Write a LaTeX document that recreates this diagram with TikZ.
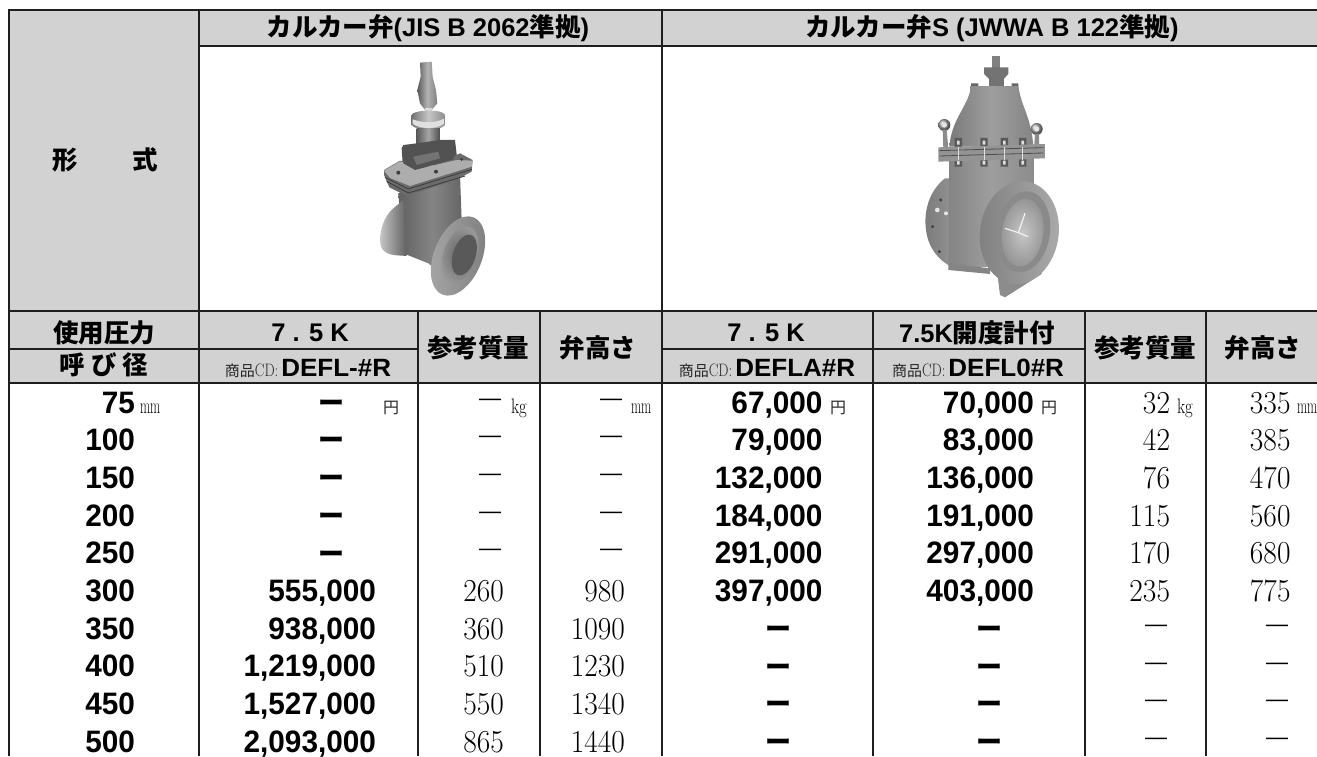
\documentclass[tikz,border=0pt]{standalone}
\usepackage{fontspec}
\newfontfamily\jp{Noto Sans CJK JP}
\newfontfamily\la{Liberation Sans}
\newfontfamily\lanum[FakeStretch=.96]{Liberation Sans}
\newfontfamily\lah[FakeStretch=1.04]{Liberation Sans}
\newfontfamily\fmm[FakeStretch=.6]{Latin Modern Roman}
\newfontfamily\fkg[FakeStretch=.8]{Latin Modern Roman}
\newfontfamily\fser[FakeStretch=.92]{Latin Modern Roman}
\definecolor{hdr}{HTML}{D2D2D2}
\definecolor{ln}{HTML}{1E1E1E}
\newcommand{\fs}[1]{\fontsize{#1}{#1}\selectfont}
\newcommand{\J}[1]{{\jp\bfseries\fs{25.5}#1}}
\newcommand{\Lh}[1]{{\la\bfseries\fs{25.5}#1}}
\newcommand{\CD}[1]{{\jp\fs{15}\color{black!85}商品}{\fkg\fs{18}\color{black!85}CD:}\hspace{3pt}{\lah\bfseries\fs{25}#1}}
\tikzset{
  x=1pt,y=-1pt,
  rule/.style={draw=ln,line width=1.8pt},
  txt/.style={inner sep=0pt,outer sep=0pt},
  bnum/.style={txt,anchor=base east,font=\lanum\bfseries\fs{31}},
  snum/.style={txt,anchor=base east,font=\fser\fs{32}},
  bdash/.style={txt,anchor=center,font=\jp\bfseries\fs{26}},
  sdash/.style={txt,anchor=center,font=\la\fs{22}},
  yen/.style={txt,anchor=base west,font=\jp\fs{16},text=black!85},
  kg/.style={txt,anchor=base west,font=\fkg\fs{21}},
  mm/.style={txt,anchor=base west,font=\fmm\fs{22}},
}
\begin{document}
\begin{tikzpicture}
\useasboundingbox (0,0) rectangle (1317,756);
\clip (0,0) rectangle (1317,756);
% grey fields
\fill[hdr] (9,10) rectangle (199,383);
\fill[hdr] (199,10) rectangle (1317,46);
\fill[hdr] (199,311) rectangle (1317,383);
% valve 1
\begin{scope}[shift={(360,60)},x=.3333pt,y=-.3333pt,line width=.5pt]
  \shade[left color=black!65,right color=black!50,middle color=black!30] (180,8) -- (215,5) -- (218,50) -- (228,90) -- (232,130) -- (215,150) -- (195,150) -- (180,130) -- (172,90) -- (182,50) -- cycle;
  \fill[black!15] (195,145) rectangle (215,170);
  \shade[left color=black!55,right color=black!45,middle color=black!22] (155,165) .. controls (155,150) and (250,145) .. (255,165) -- (255,195) .. controls (240,215) and (170,215) .. (155,195) -- cycle;
  \fill[black!12] (158,178) .. controls (190,190) and (225,190) .. (252,176) -- (252,192) .. controls (225,208) and (185,208) .. (158,192) -- cycle;
  \shade[left color=black!65,right color=black!70,middle color=black!35] (170,205) rectangle (240,270);
  \fill[black!68] (125,265) -- (130,255) -- (170,250) -- (240,240) -- (285,240) -- (292,300) -- (150,330) -- (128,310) -- cycle;
  % body
  \shade[left color=black!62,right color=black!62,middle color=black!48] (115,400) -- (300,345) -- (305,480) -- (320,475) -- (240,640) -- (205,610) -- (130,580) -- cycle;
  \shade[left color=black!20,right color=black!62] (100,445) .. controls (70,470) and (55,520) .. (62,558) .. controls (75,590) and (110,585) .. (140,588) -- (130,420) -- cycle;
  % bonnet flange
  \fill[black!58] (72,345) -- (72,330) -- (120,302) -- (210,320) -- (300,280) -- (338,300) -- (335,335) -- (290,358) -- (140,408) -- (88,382) -- cycle;
  \fill[black!32] (72,332) -- (120,304) -- (150,312) -- (170,328) -- (290,300) -- (338,302) -- (335,320) -- (150,378) -- (90,354) -- cycle;
  \draw[black!75,line width=.9pt] (75,352) -- (145,387) -- (335,328);
  \draw[black!75,line width=.9pt] (80,364) -- (145,399) -- (315,348);
  \fill[black!68] (135,270) -- (240,248) -- (285,268) -- (280,298) -- (165,330) -- (130,310) -- cycle;
  \fill[black!55] (160,290) -- (235,275) -- (240,295) -- (170,315) -- cycle;
  \fill[black!75] (115,338) circle (6) (228,335) circle (6) (305,298) circle (5);
  % flange
  \shade[left color=black!35,right color=black!50,rotate around={-22:(294,588)}] (294,588) circle [x radius=72,y radius=125];
  \shade[inner color=black!62,outer color=black!40,rotate around={-20:(300,585)}] (300,585) circle [x radius=50,y radius=88];
  \fill[black!65,rotate around={-18:(313,585)}] (313,585) circle [x radius=34,y radius=63];
\end{scope}
% valve 2
\begin{scope}[shift={(910,50)},x=.3333pt,y=-.3333pt,line width=.5pt]
  \fill[black!50] (245,18) rectangle (270,55);
  \fill[black!55] (222,52) -- (295,52) -- (295,72) -- (278,90) -- (240,90) -- (222,72) -- cycle;
  \fill[black!55] (238,88) rectangle (282,110);
  \fill[black!60] (183,100) rectangle (205,112) (305,100) rectangle (325,112);
  \shade[left color=black!52,right color=black!48,middle color=black!38] (180,108) -- (325,108) -- (328,125) .. controls (340,180) and (365,210) .. (370,290) -- (118,290) .. controls (125,210) and (165,180) .. (180,125) -- cycle;
  % left flange
  \shade[left color=black!52,right color=black!42] (105,385) .. controls (60,420) and (40,480) .. (48,540) .. controls (55,600) and (95,640) .. (135,655) -- (135,385) -- cycle;
  \fill[black!75] (92,450) circle (5) (68,530) circle (5) (88,605) circle (5);
  \fill[black!10] (82,480) circle (7) (108,490) circle (6);
  % body
  \shade[left color=black!48,right color=black!45,middle color=black!38] (118,320) rectangle (370,650);
  \fill[black!48] (115,640) -- (240,655) -- (240,672) -- (115,660) -- cycle;
  % eye bolts
  \shade[ball color=black!35] (103,225) circle (18);
  \fill[black!10] (103,225) circle (8);
  \shade[ball color=black!35] (380,237) circle (18);
  \fill[black!10] (380,237) circle (8);
  \fill[black!45] (98,240) -- (110,240) -- (115,295) -- (100,295) -- cycle (375,252) -- (387,252) -- (388,295) -- (372,295) -- cycle;
  % flange bands
  \foreach \b in {145,222,283,338}{\fill[black!65] (\b-11,264) rectangle (\b+11,292) (\b-11,328) rectangle (\b+11,350);\fill[black!12] (\b-4,272) rectangle (\b+4,284) (\b-4,332) rectangle (\b+4,344);}
  \fill[black!42] (85,292) -- (405,282) -- (405,325) -- (85,335) -- cycle;
  \draw[black!70,line width=.8pt] (88,302) -- (400,293) (88,318) -- (400,309);
  \foreach \b in {145,222,283,338}{\draw[black!12,line width=1pt] (\b,290) -- (\b,330);}
  % front flange
  \fill[black!45] (262,670) -- (395,640) -- (395,672) -- (285,742) -- (270,735) -- cycle;
  \shade[left color=black!50,right color=black!33,rotate around={-8:(328,548)}] (328,548) circle [x radius=118,y radius=155];
  \fill[black!46,rotate around={-8:(340,545)}] (340,545) circle [x radius=80,y radius=122];
  \shade[inner color=black!22,outer color=black!42,rotate around={-8:(338,548)}] (338,548) circle [x radius=62,y radius=102];
  \draw[black!5,line width=1.2pt] (285,535) -- (325,548) -- (355,560) (325,548) -- (345,490);
\end{scope}
% headers
\node[txt] (hform) at (105.5,160) {\J{形}\hspace{55pt}\J{式}};
\node[txt] (hA) at (428,28) {\J{カルカー弁}\Lh{(JIS B 2062}\J{準拠}\Lh{)}};
\node[txt] (hB) at (992,28) {\J{カルカー弁}\Lh{S (JWWA B 122}\J{準拠}\Lh{)}};
\node[txt] (hpress) at (104,333) {\J{使用圧力}};
\node[txt] (hdia) at (104,365) {\J{呼\hspace{6pt}び\hspace{6pt}径}};
\node[txt] (k1) at (310,333) {\Lh{7 . 5 K}};
\node[txt] (k2) at (766,333) {\Lh{7 . 5 K}};
\node[txt] (k3) at (977,333) {\Lh{7.5K}\J{開度計付}};
\node[txt] (cd1) at (308,368) {\CD{DEFL-\#R}};
\node[txt] (cd2) at (767,368) {\CD{DEFLA\#R}};
\node[txt] (cd3) at (978,368) {\CD{DEFL0\#R}};
\node[txt] (m1) at (478,348) {\J{参考質量}};
\node[txt] (h1) at (598,348) {\J{弁高さ}};
\node[txt] (m2) at (1145,348) {\J{参考質量}};
\node[txt] (h2) at (1263,348) {\J{弁高さ}};
% sizes
\foreach \s [count=\i from 0] in {75,100,150,200,250,300,350,400,450,500}
  \node[bnum] (size\s) at (135,{413+37.7*\i}) {\s};
% bold dashes
\foreach \i in {0,...,4} \node[bdash] (bA\i) at (331,{406+37.7*\i}) {ー};
\foreach \i in {6,...,9} {\node[bdash] (bF\i) at (778,{406+37.7*\i}) {ー}; \node[bdash] (bG\i) at (989,{406+37.7*\i}) {ー};}
% thin dashes
\foreach \i in {0,...,4} {\node[sdash] (sC\i) at (490,{402+37.7*\i}) {—}; \node[sdash] (sD\i) at (611,{402+37.7*\i}) {—};}
\foreach \i in {6,...,9} {\node[sdash] (sH\i) at (1156,{402+37.7*\i}) {—}; \node[sdash] (sI\i) at (1277,{402+37.7*\i}) {—};}
% prices and figures
\node[bnum] (pA5) at (376,{413+37.7*5}) {555,000};
\node[bnum] (pA6) at (376,{413+37.7*6}) {938,000};
\node[bnum] (pA7) at (376,{413+37.7*7}) {1,219,000};
\node[bnum] (pA8) at (376,{413+37.7*8}) {1,527,000};
\node[bnum] (pA9) at (376,{413+37.7*9}) {2,093,000};
\node[bnum] (pF0) at (822.5,{413+37.7*0}) {67,000};
\node[bnum] (pF1) at (822.5,{413+37.7*1}) {79,000};
\node[bnum] (pF2) at (822.5,{413+37.7*2}) {132,000};
\node[bnum] (pF3) at (822.5,{413+37.7*3}) {184,000};
\node[bnum] (pF4) at (822.5,{413+37.7*4}) {291,000};
\node[bnum] (pF5) at (822.5,{413+37.7*5}) {397,000};
\node[bnum] (pG0) at (1034,{413+37.7*0}) {70,000};
\node[bnum] (pG1) at (1034,{413+37.7*1}) {83,000};
\node[bnum] (pG2) at (1034,{413+37.7*2}) {136,000};
\node[bnum] (pG3) at (1034,{413+37.7*3}) {191,000};
\node[bnum] (pG4) at (1034,{413+37.7*4}) {297,000};
\node[bnum] (pG5) at (1034,{413+37.7*5}) {403,000};
\foreach \n/\i in {260/5,360/6,510/7,550/8,865/9} \node[snum] (nC\i) at (504,{413+37.7*\i}) {\n};
\foreach \n/\i in {980/5,1090/6,1230/7,1340/8,1440/9} \node[snum] (nD\i) at (625,{413+37.7*\i}) {\n};
\foreach \n/\i in {32/0,42/1,76/2,115/3,170/4,235/5} \node[snum] (nH\i) at (1170,{413+37.7*\i}) {\n};
\foreach \n/\i in {335/0,385/1,470/2,560/3,680/4,775/5} \node[snum] (nI\i) at (1290.5,{413+37.7*\i}) {\n};
% units
\node[mm] (uA) at (140,413) {mm};
\node[yen] (uB) at (383,413) {円};
\node[kg] (uC) at (511,413) {kg};
\node[mm] (uD) at (631,413) {mm};
\node[yen] (uF) at (830,413) {円};
\node[yen] (uG) at (1041,413) {円};
\node[kg] (uH) at (1177,413) {kg};
\node[mm] (uI) at (1297,413) {mm};
% rules
\foreach \x in {9,199,662} \draw[rule] (\x,10) -- (\x,756);
\foreach \x in {418,540,873,1085,1206} \draw[rule] (\x,311) -- (\x,756);
\draw[ln,line width=2.2pt] (8,10) -- (1317,10);
\draw[rule] (199,46) -- (1317,46);
\draw[ln,line width=2.2pt] (8,311) -- (1317,311);
\draw[rule] (9,349) -- (418,349) (662,349) -- (1085,349);
\draw[ln,line width=2.2pt] (8,383) -- (1317,383);
\end{tikzpicture}
\end{document}
